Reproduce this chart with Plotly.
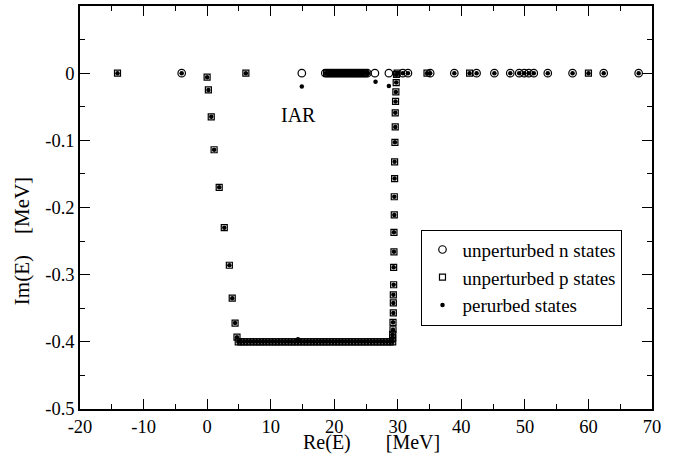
import plotly.graph_objects as go

# ---------------- data ----------------
# unperturbed n states (open circles)
n_top_x = [-4.0, 14.9, 18.6, 18.9, 19.2, 19.5, 19.8, 20.1, 20.4, 20.7, 21.0, 21.3,
           21.6, 21.9, 22.2, 22.5, 22.8, 23.1, 23.4, 23.7, 24.0, 24.3, 24.6, 24.9,
           25.2, 26.4, 28.6, 30.8, 31.6, 35.1, 38.9, 42.4, 45.2, 47.7, 49.1, 49.9,
           50.6, 51.4, 53.6, 57.5, 62.4, 67.9]
n_top_y = [0.0] * len(n_top_x)

# unperturbed p states (open squares): real axis points
p_top_x = [-14.1, 6.1, 18.8, 19.4, 20.0, 20.6, 21.2, 21.8, 22.4, 23.0, 23.6,
           24.2, 24.8, 29.9, 34.6, 41.3, 60.0]
p_top_y = [0.0] * len(p_top_x)

# contour: left descending branch
p_left_x = [0.0, 0.2, 0.65, 1.1, 1.9, 2.7, 3.5, 3.95, 4.4, 4.7]
p_left_y = [-0.006, -0.025, -0.065, -0.114, -0.170, -0.230, -0.286, -0.335,
            -0.372, -0.393]

# contour: horizontal bottom branch at Im(E) = -0.4
p_bottom_x = [4.9, 5.3, 5.8, 6.3, 6.8, 7.3, 7.8, 8.3, 8.8, 9.3, 9.8, 10.3, 10.8,
              11.3, 11.8, 12.3, 12.8, 13.3, 13.8, 14.3, 14.8, 15.3, 15.8, 16.3,
              16.8, 17.3, 17.8, 18.3, 18.8, 19.3, 19.8, 20.3, 20.8, 21.3, 21.8,
              22.3, 22.8, 23.3, 23.8, 24.3, 24.8, 25.3, 25.8, 26.3, 26.8, 27.3,
              27.8, 28.3, 28.8, 29.2]
p_bottom_y = [-0.4] * len(p_bottom_x)

# contour: right ascending branch
p_right_x = [29.2, 29.2, 29.25, 29.25, 29.3, 29.3, 29.3, 29.35, 29.35, 29.4,
             29.4, 29.45, 29.45, 29.5, 29.5, 29.55, 29.6, 29.6, 29.65, 29.7,
             29.75, 29.8]
p_right_y = [-0.394, -0.389, -0.382, -0.371, -0.357, -0.342, -0.330, -0.315,
             -0.289, -0.266, -0.237, -0.211, -0.184, -0.157, -0.132, -0.103,
             -0.080, -0.059, -0.042, -0.028, -0.014, -0.002]

# perturbed states (small dots)
pert_top_x = [-14.1, -4.0, 6.1, 18.7, 19.0, 19.3, 19.6, 19.9, 20.2, 20.5, 20.8,
              21.1, 21.4, 21.7, 22.0, 22.3, 22.6, 22.9, 23.2, 23.5, 23.8, 24.1,
              24.4, 24.7, 25.0, 25.3, 29.9, 30.8, 31.6, 34.6, 35.1, 38.9, 41.3,
              42.4, 45.2, 47.7, 49.1, 49.9, 50.6, 51.4, 53.6, 57.5, 60.0, 62.4, 67.9]
pert_top_y = [0.0] * len(pert_top_x)
pert_off_x = [14.9, 26.5, 28.6, 14.3]
pert_off_y = [-0.020, -0.0126, -0.019, -0.396]

x_tickvals = [-20, -10, 0, 10, 20, 30, 40, 50, 60, 70]
x_ticktext = ["-20", "-10", "0", "10", "20", "30", "40", "50", "60", "70"]
y_tickvals = [0, -0.1, -0.2, -0.3, -0.4, -0.5]
y_ticktext = ["0", "-0.1", "-0.2", "-0.3", "-0.4", "-0.5"]

x_title = "Re(E)\u00a0\u00a0\u00a0\u00a0\u00a0\u00a0\u00a0[MeV]"
y_title = "Im(E)\u00a0\u00a0\u00a0\u00a0[MeV]"

# ---------------- figure ----------------
FONT = "Liberation Serif, Times New Roman, serif"

fig = go.Figure()

fig.add_trace(go.Scatter(
    x=n_top_x, y=n_top_y, mode="markers", name="unperturbed n states",
    marker=dict(symbol="circle-open", size=7.5, color="black", line=dict(width=1.2)),
))
fig.add_trace(go.Scatter(
    x=p_top_x + p_left_x + p_bottom_x + p_right_x,
    y=p_top_y + p_left_y + p_bottom_y + p_right_y,
    mode="markers", name="unperturbed p states",
    marker=dict(symbol="square-open", size=6, color="black", line=dict(width=1.2)),
))
fig.add_trace(go.Scatter(
    x=pert_top_x + p_left_x + p_bottom_x + p_right_x + pert_off_x,
    y=pert_top_y + p_left_y + p_bottom_y + p_right_y + pert_off_y,
    mode="markers", name="perurbed states",
    marker=dict(symbol="circle", size=4.5, color="black"),
))

fig.add_annotation(x=14.4, y=-0.062, text="IAR", showarrow=False,
                   font=dict(family=FONT, size=20, color="black"))
# axis titles
fig.add_annotation(xref="paper", yref="paper", x=0.509, y=-0.114,
                   xanchor="center", yanchor="bottom", text=x_title,
                   showarrow=False, borderpad=0,
                   font=dict(family=FONT, size=20, color="black"))
fig.add_annotation(xref="paper", yref="paper", x=-0.101, y=0.417,
                   xanchor="center", yanchor="middle", text=y_title, textangle=-90,
                   showarrow=False, font=dict(family=FONT, size=21, color="black"))

axis_common = dict(
    showgrid=False, zeroline=False, showline=True, linecolor="black", linewidth=1.5,
    mirror="allticks", ticks="inside", ticklen=10, tickwidth=1.2, tickcolor="black",
    tickfont=dict(family=FONT, size=18.5, color="black"),
)

fig.update_xaxes(
    range=[-20, 70], tickvals=x_tickvals, ticktext=x_ticktext,
    minor=dict(ticks="inside", ticklen=5, dtick=5, tickcolor="black", tickwidth=1.2),
    **axis_common,
)
fig.update_yaxes(
    range=[-0.5, 0.1], tickvals=y_tickvals, ticktext=y_ticktext,
    minor=dict(ticks="inside", ticklen=5, dtick=0.05, tickcolor="black", tickwidth=1.2),
    **axis_common,
)

fig.update_layout(
    width=678, height=455,
    margin=dict(l=80, r=26, t=6, b=46, autoexpand=False),
    paper_bgcolor="white", plot_bgcolor="white",
    showlegend=True,
    legend=dict(
        x=0.597, y=0.445, xanchor="left", yanchor="top",
        bordercolor="black", borderwidth=1, bgcolor="white",
        font=dict(family=FONT, size=19, color="black"),
        itemsizing="trace", tracegroupgap=0,
    ),
)

fig.write_html("out.html", config={"displayModeBar": False},
               post_script="document.body.style.margin='0';")
